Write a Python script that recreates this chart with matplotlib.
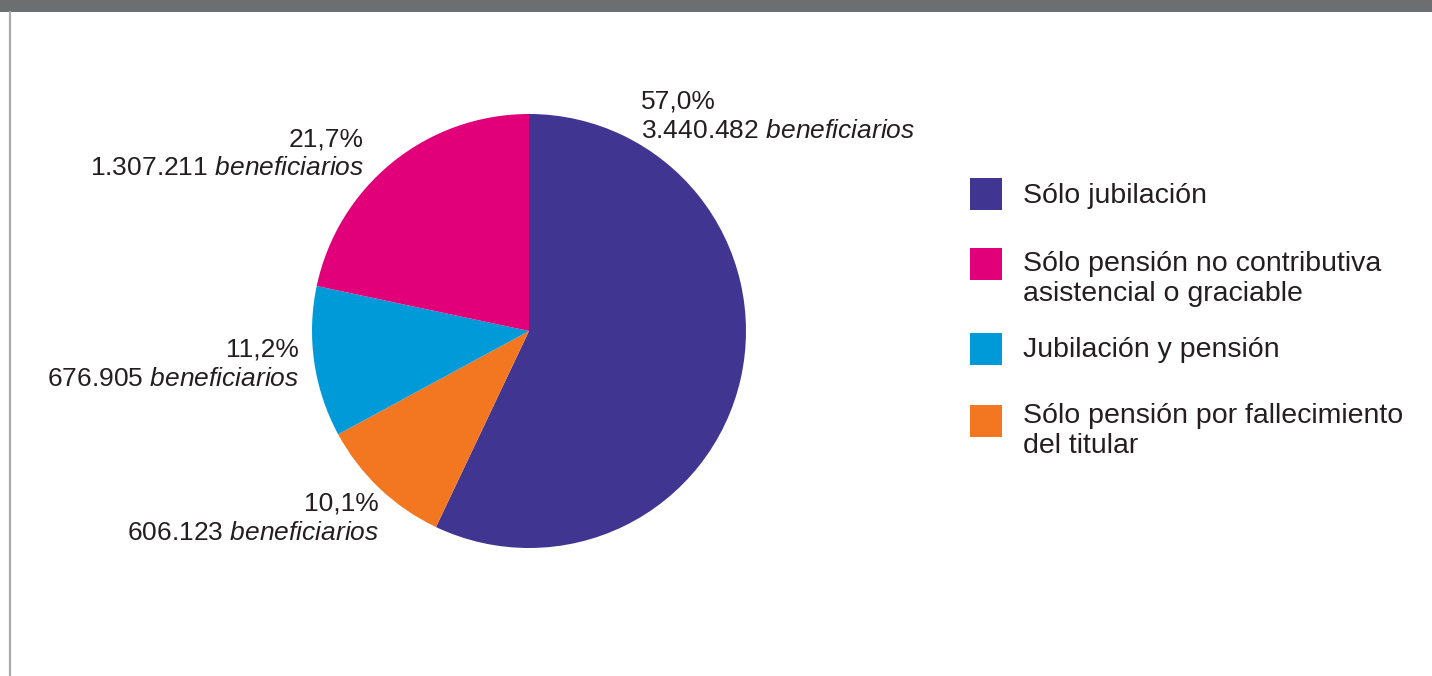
import matplotlib as mpl
mpl.use('Agg')
import matplotlib.pyplot as plt
from matplotlib.patches import Rectangle

plt.rcParams['font.family'] = ['Liberation Sans', 'DejaVu Sans']
plt.rcParams['mathtext.fontset'] = 'custom'
plt.rcParams['mathtext.rm'] = 'Liberation Sans'
plt.rcParams['mathtext.it'] = 'Liberation Sans:italic'

# data, clockwise from 12 o'clock
categorias = ['Sólo jubilación',
              'Sólo pensión por fallecimiento\ndel titular',
              'Jubilación y pensión',
              'Sólo pensión no contributiva\nasistencial o graciable']
beneficiarios = [3440482, 606123, 676905, 1307211]
porcentajes = ['57,0%', '10,1%', '11,2%', '21,7%']
colores = ['#413592', '#f37720', '#009ad8', '#e2007a']
orden_leyenda = [0, 3, 2, 1]

W, H = 1432, 676
fig = plt.figure(figsize=(W/100, H/100), dpi=100)
txtcol = '#231f20'

def fx(x): return x / W
def fy(y): return 1 - y / H

# frame: top bar and left rule
fig.add_artist(Rectangle((0, fy(12)), 1, 12/H, transform=fig.transFigure,
                         color='#6d6e70', lw=0))
fig.add_artist(plt.Line2D([fx(10), fx(10)], [0, fy(12)], transform=fig.transFigure,
                          color='#a7a9ac', lw=1.6))

# pie
cx, cy, r = 529, 331, 217
ax = fig.add_axes([fx(cx - r), fy(cy + r), 2*r/W, 2*r/H])
ax.pie(beneficiarios, colors=colores, startangle=90, counterclock=False,
       radius=1, wedgeprops=dict(linewidth=0))
ax.set_xlim(-1, 1)
ax.set_ylim(-1, 1)
ax.set_aspect('equal')
ax.axis('off')

def miles(n):
    return f'{n:,}'.replace(',', '.')

# label anchor in pixels (x, first baseline) and alignment
pos_etiquetas = [(641, 109, 'left'), (379, 511, 'right'),
                 (299, 357, 'right'), (364, 146, 'right')]
for p, n, (px, py, ha) in zip(porcentajes, beneficiarios, pos_etiquetas):
    lineas = [p, miles(n) + r' $\mathit{beneficiarios}$']
    for i, s in enumerate(lineas):
        ax.text((px - cx) / r, (cy - py - 29*i) / r, s, ha=ha, va='baseline',
                fontsize=19, color=txtcol)

# legend
cuadro_y = [178, 248, 333, 405]
base_y = [203, 271, 357, 423]
for k, sy, by in zip(orden_leyenda, cuadro_y, base_y):
    fig.add_artist(Rectangle((fx(970), fy(sy + 32)), 32/W, 32/H,
                             transform=fig.transFigure, color=colores[k], lw=0))
    for i, s in enumerate(categorias[k].split('\n')):
        fig.text(fx(1023), fy(by + 30*i), s, ha='left', va='baseline',
                 fontsize=20.5, color=txtcol)

fig.savefig('out.png', dpi=100)
